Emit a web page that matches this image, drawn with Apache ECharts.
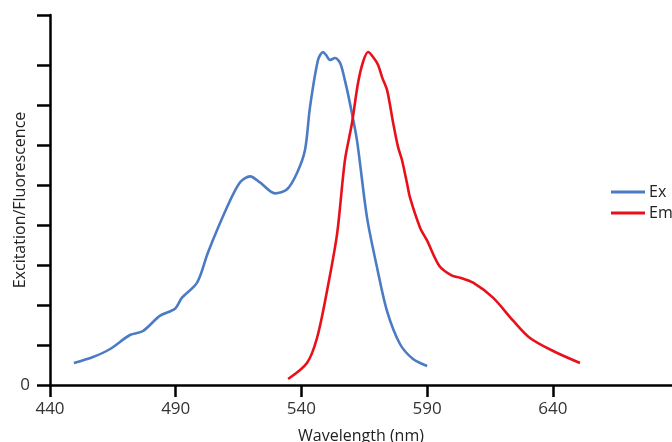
<!DOCTYPE html>
<html>
<head>
<meta charset="utf-8">
<script src="https://cdn.jsdelivr.net/npm/echarts@6/dist/echarts.min.js"></script>
<style>
html,body{margin:0;padding:0;background:#fff;}
#chart{width:672px;height:442px;}
</style>
</head>
<body>
<div id="chart"></div>
<script>
const exWavelength = [449.5,457.1,463.9,471.8,477.0,483.8,489.7,492.5,498.5,502.8,510.4,515.6,519.6,523.5,529.5,534.3,538.2,541.4,543.4,546.6,548.6,549.8,551.4,553.4,555.4,557.3,559.3,562.1,566.1,570.1,574.0,579.2,584.4,590.0];
const exValues     = [6.6,8.4,10.8,15.0,16.2,20.8,22.9,26.2,30.7,39.7,53.3,60.8,62.6,60.8,57.5,58.7,63.5,70.4,83.3,97.5,99.9,99.0,97.5,98.1,96.6,91.4,84.5,73.4,50.2,35.2,22.3,12.3,7.8,5.7];
const emWavelength = [534.7,542.2,546.2,550.2,554.2,557.3,560.1,562.5,564.5,566.5,568.5,570.5,572.1,574.1,576.4,578.4,580.0,582.0,583.2,587.2,590.0,594.8,599.9,603.1,608.3,616.2,624.2,630.9,640.1,650.8];
const emValues     = [1.8,6.6,14.1,28.3,45.4,67.4,78.5,90.5,96.9,99.9,98.4,96.0,92.3,88.4,79.0,71.5,67.5,60.5,56.2,47.2,43.3,35.8,32.8,32.2,30.7,26.2,19.3,14.1,10.2,6.6];
const xTicks = [440,490,540,590,640];
const yTicks = [0,12,24,36,48,60,72,84,96,111];

const exData = exWavelength.map((w,i)=>[w, exValues[i]]);
const emData = emWavelength.map((w,i)=>[w, emValues[i]]);

const chart = echarts.init(document.getElementById('chart'), null, {renderer:'canvas'});
const font = 'Open Sans';
chart.setOption({
  animation:false,
  backgroundColor:'#fff',
  grid:{left:50, right:0, top:15, bottom:57, containLabel:false, outerBoundsMode:'none'},
  legend:{
    orient:'vertical', left:606, top:179, itemGap:5, itemWidth:34, itemHeight:3,
    icon:'rect',
    textStyle:{fontFamily:font, fontSize:16, color:'#222', padding:[0,0,0,-1]},
    data:['Ex','Em']
  },
  xAxis:{
    type:'value', min:440, max:687.4, interval:50,
    name:'Wavelength (nm)', nameLocation:'middle', nameGap:43,
    nameTextStyle:{fontFamily:font, fontSize:16, color:'#222'},
    axisLine:{lineStyle:{color:'#000', width:2.5}},
    axisTick:{length:12, lineStyle:{color:'#000', width:2.5}, customValues:xTicks},
    axisLabel:{fontFamily:font, fontSize:17, color:'#333', margin:16, customValues:xTicks,
      formatter:v=> String(v)},
    splitLine:{show:false}
  },
  yAxis:{
    type:'value', min:0, max:111, interval:12,
    name:'Excitation/Fluorescence', nameLocation:'middle', nameGap:22, nameMoveOverlap:false,
    nameTextStyle:{fontFamily:font, fontSize:16, color:'#222'},
    axisLine:{show:true, lineStyle:{color:'#000', width:2.5}},
    axisTick:{show:true, length:13, lineStyle:{color:'#000', width:2.5}, customValues:yTicks},
    axisLabel:{fontFamily:font, fontSize:17, color:'#333', margin:20, customValues:[0],
      formatter:v=> '0'},
    splitLine:{show:false}
  },
  series:[
    {name:'Ex', type:'line', data:exData, smooth:0.3, symbol:'none',
     lineStyle:{color:'#4a7bc4', width:2.6}, itemStyle:{color:'#4a7bc4'}},
    {name:'Em', type:'line', data:emData, smooth:0.3, symbol:'none',
     lineStyle:{color:'#e8111b', width:2.6}, itemStyle:{color:'#e8111b'}}
  ]
});
</script>
</body>
</html>
